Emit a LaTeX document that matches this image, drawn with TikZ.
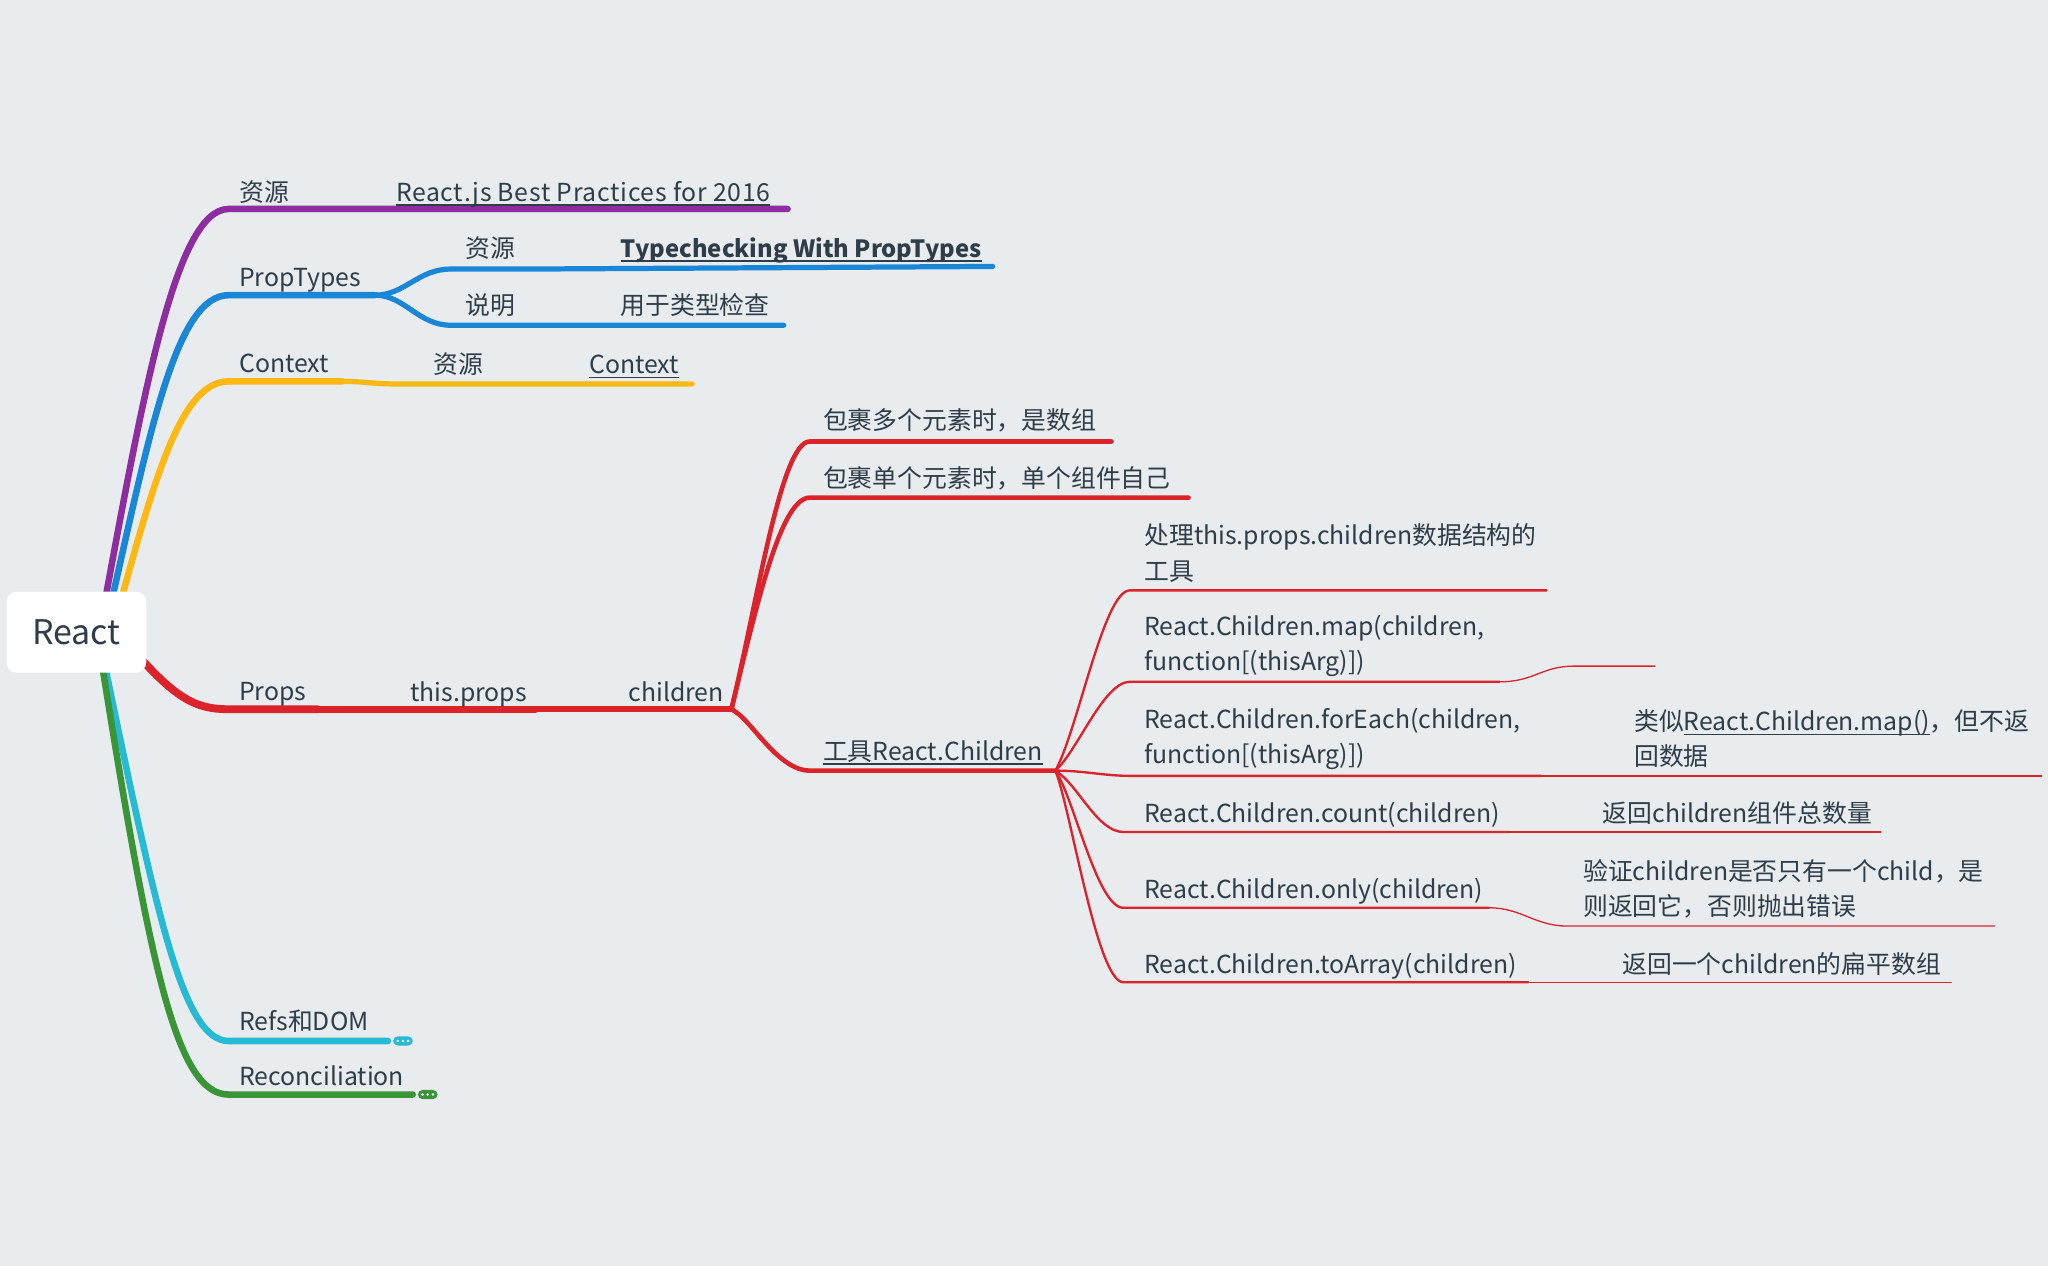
\documentclass[tikz,border=0pt]{standalone}
\usepackage{fontspec}
\setmainfont{Noto Sans CJK SC}
\newcommand{\linkul}[1]{\setbox0\hbox{#1}\leavevmode\rlap{\raisebox{-3.6pt}{\rule{\wd0}{1.2pt}}}\box0}

\definecolor{bgc}{RGB}{232,236,239}
\definecolor{ink}{RGB}{47,61,72}
\definecolor{mpurple}{RGB}{142,45,160}
\definecolor{mblue}{RGB}{26,134,216}
\definecolor{myellow}{RGB}{253,184,19}
\definecolor{mred}{RGB}{220,34,42}
\definecolor{mcyan}{RGB}{38,186,212}
\definecolor{mgreen}{RGB}{58,148,56}

\tikzset{
  topic/.style={anchor=west, inner sep=0pt, text=ink, font=\fontsize{19}{27}\selectfont, text height=17pt, text depth=3pt},
  note/.style={anchor=west, inner sep=0pt, text=ink, font=\fontsize{19}{27}\selectfont, align=left},
  branch/.style={line cap=round, line join=round},
}

\begin{document}
\begin{tikzpicture}[x=1pt, y=-1pt]
% Background
\fill[bgc] (0,0) rectangle (1568,969);

% Branch anchors
\coordinate (r-purple) at (80,462);
\coordinate (r-blue) at (85,462);
\coordinate (r-yellow) at (92,462);
\coordinate (r-red) at (104,500);
\coordinate (r-cyan) at (80,508);
\coordinate (r-green) at (78,508);
\coordinate (res-s) at (175,160);
\coordinate (pt-s) at (175,226);
\coordinate (pt-e) at (287,226);
\coordinate (ctx-s) at (175,292);
\coordinate (ctx-e) at (262,292);
\coordinate (props-s) at (175,543);
\coordinate (props-e) at (243,543);
\coordinate (this-e) at (410,543);
\coordinate (child-e) at (560,543);
\coordinate (tool-e) at (808,590);
\coordinate (refs-s) at (175,797);
\coordinate (rec-s) at (175,838);

% Resources
\draw[branch, mpurple, line width=5pt] (r-purple) .. controls (110,300) and (135,160) .. (res-s) -- (603,160);

% PropTypes
\draw[branch, mblue, line width=5pt] (r-blue) .. controls (115,330) and (135,226) .. (pt-s) -- (pt-e);
\draw[branch, mblue, line width=4pt] (pt-e) .. controls (310,226) and (320,206) .. (345,206) -- (405,206) -- (760,204);
\draw[branch, mblue, line width=4pt] (pt-e) .. controls (310,226) and (320,249) .. (345,249) -- (600,249);

% Context
\draw[branch, myellow, line width=5pt] (r-yellow) .. controls (120,360) and (140,292) .. (ctx-s) -- (ctx-e);
\draw[branch, myellow, line width=4pt] (ctx-e) .. controls (280,292) and (285,294) .. (305,294) -- (530,294);

% Props
\draw[branch, mred, line width=6pt] (r-red) .. controls (135,535) and (150,543) .. (props-s) -- (props-e);
\draw[branch, mred, line width=5.5pt] (props-e) -- (this-e);
\draw[branch, mred, line width=4.5pt] (this-e) -- (child-e);
\draw[branch, mred, line width=3.5pt] (child-e) .. controls (580,460) and (598,338) .. (620,338) -- (851,338);
\draw[branch, mred, line width=3.5pt] (child-e) .. controls (580,460) and (598,381) .. (620,381) -- (910,381);
\draw[branch, mred, line width=3.5pt] (child-e) .. controls (575,550) and (595,590) .. (620,590) -- (tool-e);

% React.Children tools
\draw[branch, mred, line width=1.8pt] (tool-e) .. controls (825,560) and (845,452) .. (865,452) -- (1184,452);
\draw[branch, mred, line width=1.8pt] (tool-e) .. controls (825,575) and (845,522) .. (865,522) -- (1148,522);
\draw[branch, mred, line width=1.8pt] (tool-e) .. controls (830,590) and (845,594) .. (865,594) -- (1180,594);
\draw[branch, mred, line width=1.8pt] (tool-e) .. controls (825,600) and (840,637) .. (860,637) -- (1155,637);
\draw[branch, mred, line width=1.8pt] (tool-e) .. controls (822,610) and (840,695) .. (860,695) -- (1140,695);
\draw[branch, mred, line width=1.8pt] (tool-e) .. controls (820,620) and (840,752) .. (860,752) -- (1170,752);
\draw[branch, mred, line width=1pt] (1148,522) .. controls (1175,522) and (1180,510) .. (1205,510) -- (1267,510);
\draw[branch, mred, line width=1pt] (1180,594) -- (1563,594);
\draw[branch, mred, line width=1pt] (1155,637) -- (1440,637);
\draw[branch, mred, line width=1pt] (1140,695) .. controls (1165,695) and (1175,709) .. (1200,709) -- (1527,709);
\draw[branch, mred, line width=1pt] (1170,752) -- (1494,752);

% Refs and Reconciliation
\draw[branch, mcyan, line width=5pt] (r-cyan) .. controls (120,700) and (140,797) .. (refs-s) -- (297,797);
\draw[branch, mgreen, line width=5pt] (r-green) .. controls (115,740) and (135,838) .. (rec-s) -- (316,838);
\fill[mcyan, rounded corners=3.5pt] (301,793.5) rectangle (316,800.5);
\fill[mgreen, rounded corners=3.5pt] (320,834.5) rectangle (335,841.5);
\foreach \d in {304.5,308.5,312.5} {\fill[white] (\d,797) circle (1.1pt);}
\foreach \d in {323.5,327.5,331.5} {\fill[white] (\d,838) circle (1.1pt);}

% Root
\node[fill=white, rounded corners=8pt, minimum width=107pt, minimum height=62pt, inner sep=0pt,
  text=ink, font=\fontsize{26}{30}\selectfont] (react) at (58.5,484) {React};

% Labels
\node[topic] (res) at (183,147) {资源};
\node[topic, font=\fontsize{19}{27}\selectfont\addfontfeature{LetterSpace=2.8}] (res-link) at (303,147) {\linkul{React.js Best Practices for 2016}};
\node[topic] (pt) at (183,212) {PropTypes};
\node[topic] (pt-res) at (356,190) {资源};
\node[topic, font=\fontsize{18.2}{27}\selectfont\bfseries] (pt-link) at (475,190) {\linkul{Typechecking With PropTypes}};
\node[topic] (pt-desc) at (356,234) {说明};
\node[topic] (pt-use) at (475,234) {用于类型检查};
\node[topic] (ctx) at (183,278) {Context};
\node[topic] (ctx-res) at (332,279) {资源};
\node[topic] (ctx-link) at (451,279) {\linkul{Context}};
\node[topic] (props) at (183,529) {Props};
\node[topic] (this) at (314,530) {this.props};
\node[topic] (child) at (481,530) {children};
\node[topic] (multi) at (630,322) {包裹多个元素时，是数组};
\node[topic] (single) at (630,366) {包裹单个元素时，单个组件自己};
\node[topic] (tool) at (630,575) {\linkul{工具React.Children}};
\node[note] (tool-desc) at (876,423.5) {处理this.props.children数据结构的\\工具};
\node[note] (map) at (876,494.5) {React.Children.map(children,\\function[(thisArg)])};
\node[note] (each) at (876,565.5) {React.Children.forEach(children,\\function[(thisArg)])};
\node[note] (each-desc) at (1251,565.5) {类似\linkul{React.Children.map()}，但不返\\回数据};
\node[topic] (count) at (876,623) {React.Children.count(children)};
\node[topic] (count-desc) at (1227,623) {返回children组件总数量};
\node[topic] (only) at (876,681) {React.Children.only(children)};
\node[note] (only-desc) at (1212,680.5) {验证children是否只有一个child，是\\则返回它，否则抛出错误};
\node[topic] (array) at (876,738) {React.Children.toArray(children)};
\node[topic] (array-desc) at (1242,738) {返回一个children的扁平数组};
\node[topic] (refs) at (183,782) {Refs和DOM};
\node[topic] (rec) at (183,824) {Reconciliation};
\end{tikzpicture}
\end{document}
